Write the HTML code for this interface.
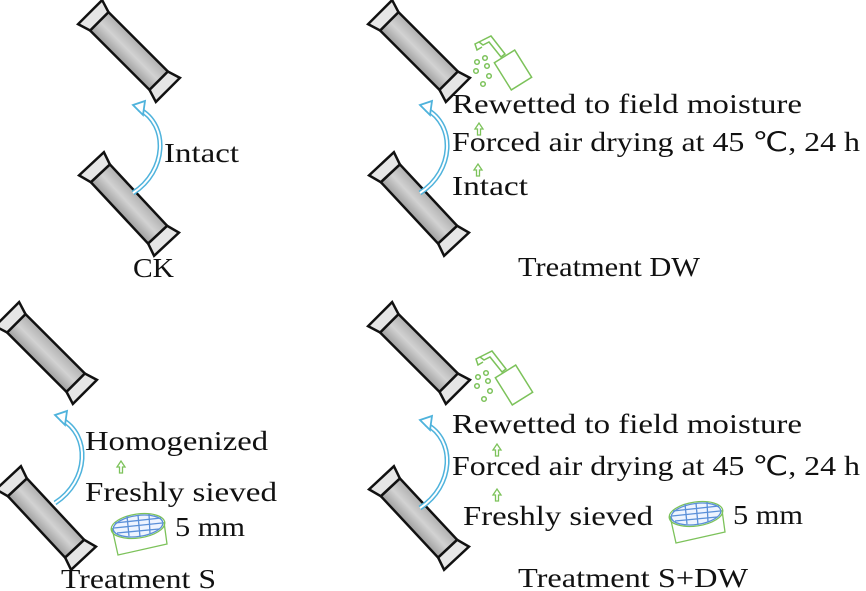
<!DOCTYPE html>
<html><head><style>
html,body{margin:0;padding:0;background:#fff;}
svg{display:block;}
text{font-family:"Liberation Serif",serif;fill:#111;font-size:27px;}
</style></head><body>
<svg width="866" height="591" viewBox="0 0 866 591" xmlns="http://www.w3.org/2000/svg">
<defs>
<linearGradient id="g" x1="0" y1="0" x2="0" y2="1">
<stop offset="0" stop-color="#b0b0b0"/><stop offset="0.5" stop-color="#d2d2d2"/><stop offset="1" stop-color="#a0a0a0"/>
</linearGradient>
<g id="tube">
<rect x="-42" y="-13" width="84" height="26" fill="url(#g)" stroke="#111" stroke-width="2.5"/>
<polygon points="-42,-13 -42,13 -55,17 -55,-17" fill="#e6e6e6" stroke="#111" stroke-width="2.5"/>
<polygon points="42,-13 42,13 55,17 55,-17" fill="#e6e6e6" stroke="#111" stroke-width="2.5"/>
</g>
<g id="arc">
<path d="M0,0 C34,-22 36,-68 6,-84" fill="none" stroke="#4fb3dc" stroke-width="5"/>
<path d="M0,0 C34,-22 36,-68 6,-84" fill="none" stroke="#fff" stroke-width="2"/>
<polygon points="0,-88 12,-92 10,-78" fill="#fff" stroke="#4fb3dc" stroke-width="1.8"/>
</g>
<g id="spray" fill="none" stroke="#7cc25a" stroke-width="1.5">
<rect x="30" y="18" width="24" height="32" transform="rotate(-32 42 34)"/>
<path d="M8,6 L20,0 L34,18 L30,21 L18,6 L12,9 Z"/>
<path d="M8,6 L4,8 L6,14 L11,11"/>
<circle cx="6" cy="26" r="2.3"/><circle cx="14" cy="22" r="2.3"/><circle cx="16" cy="30" r="2.3"/>
<circle cx="5" cy="35" r="2.3"/><circle cx="18" cy="40" r="2.3"/><circle cx="12" cy="48" r="2.3"/>
</g>
<g id="sieve" stroke-width="1.3" fill="none">
<path d="M2,16 L8,43 L57,32 L54,10" stroke="#7cc25a"/>
<ellipse cx="28" cy="14" rx="27" ry="12" transform="rotate(-8 28 14)" stroke="#7cc25a"/>
<ellipse cx="28" cy="14" rx="25" ry="10.5" transform="rotate(-8 28 14)" stroke="#5a8fd8" fill="#eef4ff"/>
<path d="M5,11 L51,6 M4,16 L52,11 M7,21 L49,17 M17,4 L19,24 M28,3 L30,25 M39,2 L40,22" stroke="#5a8fd8"/>
</g>
<g id="uarr" fill="none" stroke="#7cc25a" stroke-width="1.3">
<path d="M-1.5,9 L-1.5,3 L-4,3 L0,-3 L4,3 L1.5,3 L1.5,9 Z"/>
</g>
</defs>

<!-- CK -->
<use href="#tube" transform="translate(129,51) rotate(45)"/>
<use href="#tube" transform="translate(129,204) rotate(47)"/>
<use href="#arc" transform="translate(133,193)"/>
<text x="164" y="162" textLength="75" lengthAdjust="spacingAndGlyphs">Intact</text>
<text x="133" y="277" textLength="41" lengthAdjust="spacingAndGlyphs">CK</text>

<!-- DW -->
<use href="#tube" transform="translate(419,51) rotate(45)"/>
<use href="#tube" transform="translate(419,204) rotate(47)"/>
<use href="#arc" transform="translate(420,193)"/>
<use href="#spray" transform="translate(471,36)"/>
<text x="452" y="113" textLength="350" lengthAdjust="spacingAndGlyphs">Rewetted to field moisture</text>
<use href="#uarr" transform="translate(479,126)"/>
<text x="452" y="151" textLength="408" lengthAdjust="spacingAndGlyphs">Forced air drying at 45 ℃, 24 h</text>
<use href="#uarr" transform="translate(478,167)"/>
<text x="452" y="195" textLength="76" lengthAdjust="spacingAndGlyphs">Intact</text>
<text x="518" y="276" textLength="182" lengthAdjust="spacingAndGlyphs">Treatment DW</text>

<!-- S -->
<use href="#tube" transform="translate(46,353) rotate(45)"/>
<use href="#tube" transform="translate(46,518) rotate(47)"/>
<use href="#arc" transform="translate(55,503)"/>
<text x="85" y="450" textLength="183" lengthAdjust="spacingAndGlyphs">Homogenized</text>
<use href="#uarr" transform="translate(121,464)"/>
<text x="85" y="501" textLength="192" lengthAdjust="spacingAndGlyphs">Freshly sieved</text>
<use href="#sieve" transform="translate(110,512)"/>
<text x="175" y="536" textLength="70" lengthAdjust="spacingAndGlyphs">5 mm</text>
<text x="61" y="588" textLength="155" lengthAdjust="spacingAndGlyphs">Treatment S</text>

<!-- S+DW -->
<use href="#tube" transform="translate(419,353) rotate(45)"/>
<use href="#tube" transform="translate(419,518) rotate(47)"/>
<use href="#arc" transform="translate(420,508)"/>
<use href="#spray" transform="translate(472,351)"/>
<text x="452" y="433" textLength="350" lengthAdjust="spacingAndGlyphs">Rewetted to field moisture</text>
<use href="#uarr" transform="translate(497,447)"/>
<text x="452" y="475" textLength="408" lengthAdjust="spacingAndGlyphs">Forced air drying at 45 ℃, 24 h</text>
<use href="#uarr" transform="translate(497,492)"/>
<text x="463" y="525" textLength="190" lengthAdjust="spacingAndGlyphs">Freshly sieved</text>
<use href="#sieve" transform="translate(668,500)"/>
<text x="733" y="524" textLength="70" lengthAdjust="spacingAndGlyphs">5 mm</text>
<text x="518" y="587" textLength="230" lengthAdjust="spacingAndGlyphs">Treatment S+DW</text>
</svg>
</body></html>
